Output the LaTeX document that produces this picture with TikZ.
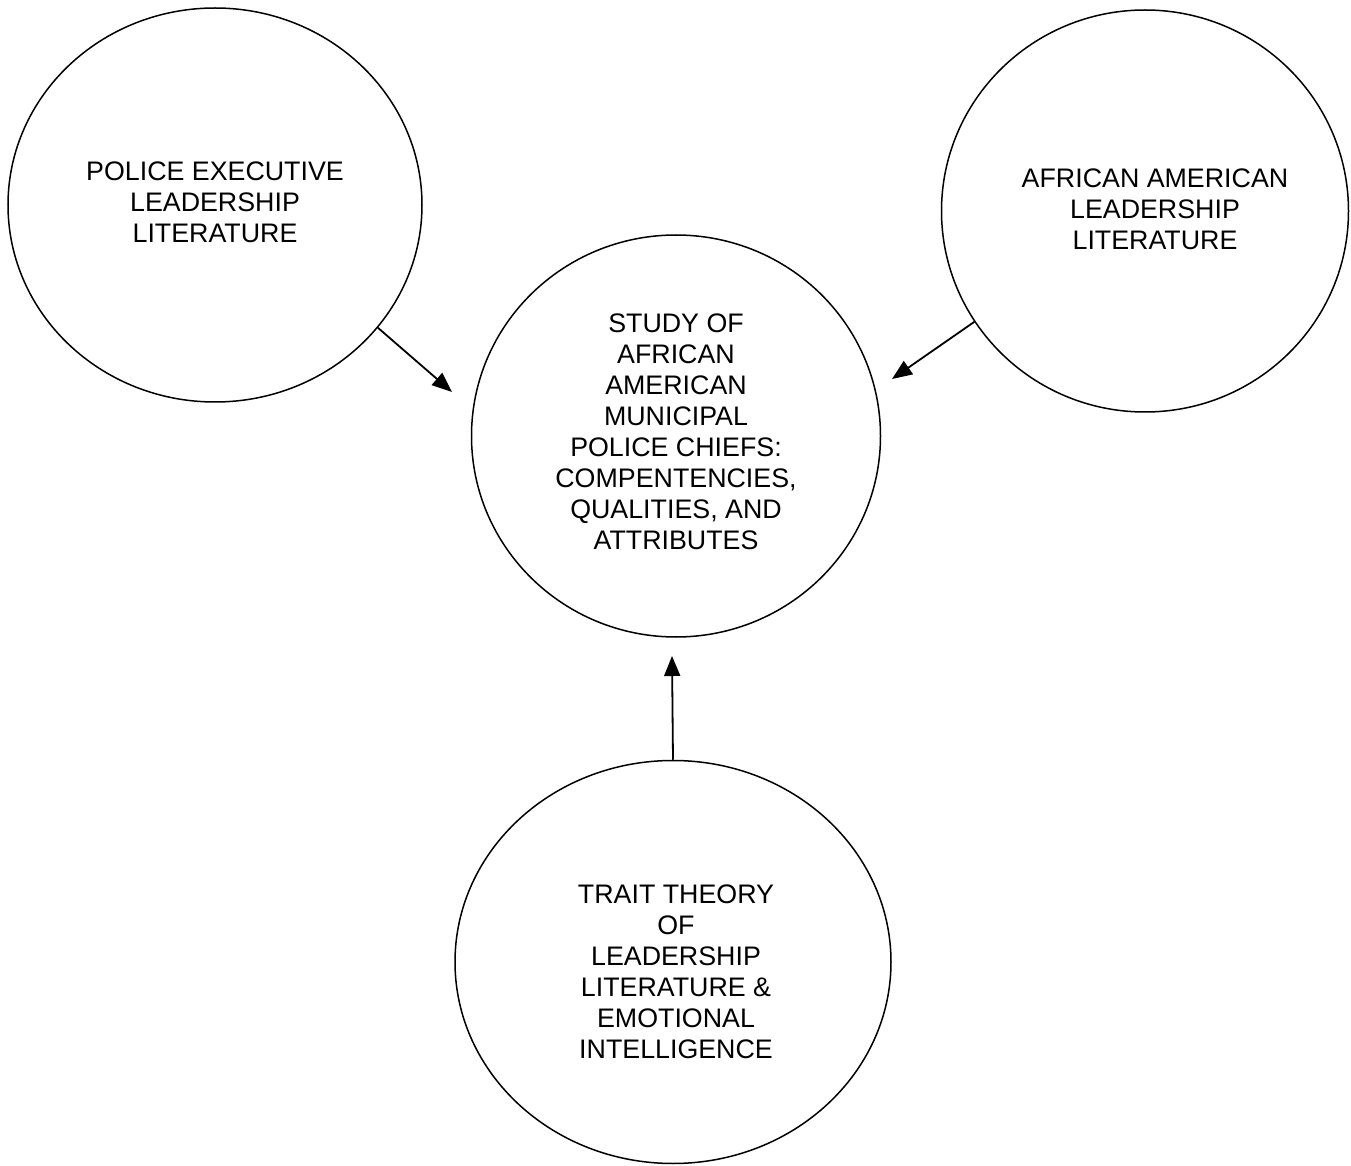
\documentclass[tikz,border=0pt]{standalone}
\usepackage{fontspec}
\setmainfont{Liberation Sans}
\usetikzlibrary{shapes.geometric,arrows.meta}

\begin{document}
\begin{tikzpicture}[x=0.5pt,y=-0.5pt,
  lit/.style={draw,ellipse,line width=0.75pt,inner sep=0pt},
  littext/.style={align=center,inner sep=0pt,font=\fontsize{13.4}{15.5}\selectfont},
  feed/.style={-{Triangle[length=10pt,width=8pt]},line width=0.9pt}]
\useasboundingbox (0,0) rectangle (1351,1166);
% source literature circles
\node[lit,minimum width=207pt,minimum height=197pt] (police) at (215,205) {};
\node[littext] (policetext) at (215,202) {POLICE EXECUTIVE\\LEADERSHIP\\LITERATURE};
\node[lit,minimum width=203.5pt,minimum height=201pt] (african) at (1145,211) {};
\node[littext] (africantext) at (1155,209) {AFRICAN AMERICAN\\LEADERSHIP\\LITERATURE};
\node[lit,minimum width=218pt,minimum height=201.5pt] (trait) at (673,962) {};
\node[littext] (traittext) at (676,972) {TRAIT THEORY\\OF\\LEADERSHIP\\LITERATURE \&\\EMOTIONAL\\INTELLIGENCE};
% the study itself
\node[lit,minimum width=204.5pt,minimum height=201pt] (study) at (676,436) {};
\node[littext] (studytext) at (676,432) {STUDY OF\\AFRICAN\\AMERICAN\\MUNICIPAL\\POLICE CHIEFS:\\COMPENTENCIES,\\QUALITIES, AND\\ATTRIBUTES};
% arrow ends
\coordinate (pe) at (452,392);
\coordinate (ae) at (892,379);
\coordinate (te) at (672,656);
\draw[feed] (police.-37) -- (pe);
\draw[feed] (african.-147.5) -- (ae);
\draw[feed] (trait.north) -- (te);
\end{tikzpicture}
\end{document}
